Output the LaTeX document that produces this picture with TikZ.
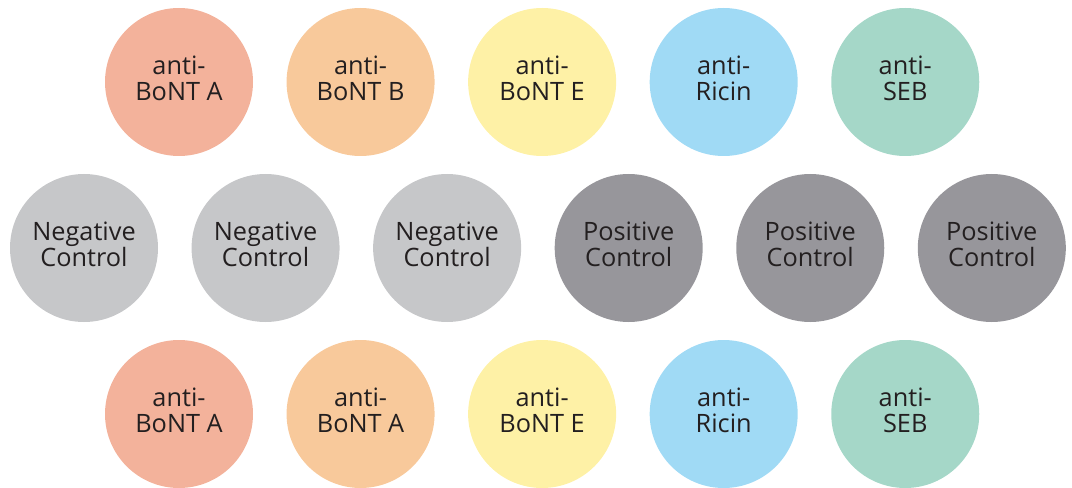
\documentclass[tikz,border=0pt]{standalone}
\usepackage{fontspec}
\setmainfont{Open Sans}
\usepackage{tikz}
\usetikzlibrary{positioning}
\usepackage{xcolor}

\definecolor{bontA}{HTML}{F3B29B}
\definecolor{bontB}{HTML}{F8C99B}
\definecolor{bontE}{HTML}{FEF1A6}
\definecolor{ricin}{HTML}{A0DAF5}
\definecolor{seb}{HTML}{A5D7C8}
\definecolor{negctl}{HTML}{C6C7C9}
\definecolor{posctl}{HTML}{97969B}
\definecolor{inktext}{HTML}{231F20}

\begin{document}
\begin{tikzpicture}[
        node distance=0.825cm and 0.825cm,
        spot/.style={circle, draw=none, inner sep=0pt, minimum size=3.7cm, align=center,
            text depth=0.2cm, font=\fontsize{18}{18.5}\selectfont, text=inktext},
    ]
        \useasboundingbox (0,0) rectangle (26.8,12.175);
        % top row
        \node[spot, fill=bontA] (ta) at (4.475,10.125) {anti-\\BoNT A};
        \node[spot, fill=bontB, right=of ta] (tb) {anti-\\BoNT B};
        \node[spot, fill=bontE, right=of tb] (te) {anti-\\BoNT E};
        \node[spot, fill=ricin, right=of te] (tr) {anti-\\Ricin};
        \node[spot, fill=seb, right=of tr] (ts) {anti-\\SEB};
        % controls
        \node[spot, fill=negctl] (neg1) at (2.1,5.975) {Negative\\Control};
        \node[spot, fill=negctl, right=of neg1] (neg2) {Negative\\Control};
        \node[spot, fill=negctl, right=of neg2] (neg3) {Negative\\Control};
        \node[spot, fill=posctl, right=of neg3] (pos1) {Positive\\Control};
        \node[spot, fill=posctl, right=of pos1] (pos2) {Positive\\Control};
        \node[spot, fill=posctl, right=of pos2] (pos3) {Positive\\Control};
        % bottom row
        \node[spot, fill=bontA] (ba) at (4.475,1.825) {anti-\\BoNT A};
        \node[spot, fill=bontB, right=of ba] (bb) {anti-\\BoNT A};
        \node[spot, fill=bontE, right=of bb] (be) {anti-\\BoNT E};
        \node[spot, fill=ricin, right=of be] (br) {anti-\\Ricin};
        \node[spot, fill=seb, right=of br] (bs) {anti-\\SEB};
    \end{tikzpicture}
\end{document}
